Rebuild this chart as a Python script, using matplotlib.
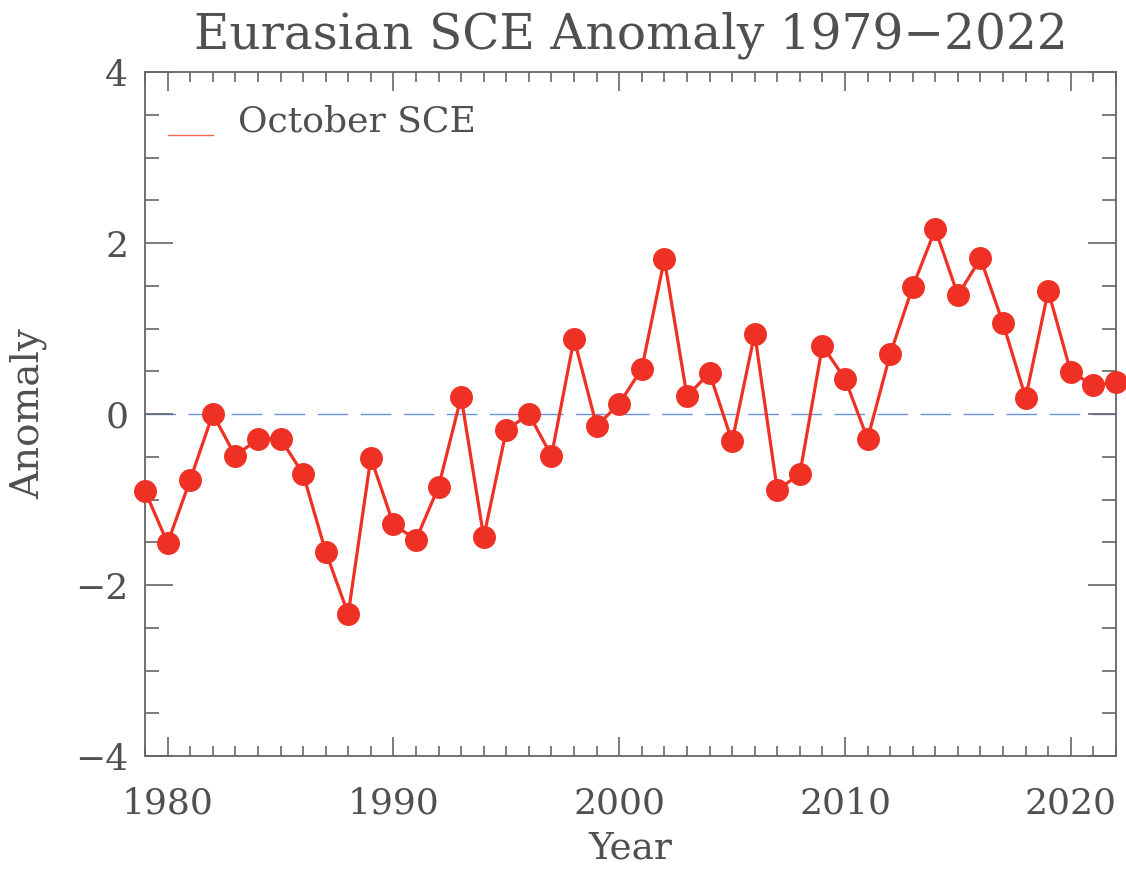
import numpy as np
import matplotlib.pyplot as plt
from matplotlib.ticker import MultipleLocator

# October Eurasian snow cover extent anomaly
years = np.arange(1979, 2023)
anomaly = [-0.90, -1.51, -0.77, 0.00, -0.49, -0.29, -0.29, -0.70, -1.61, -2.34,
           -0.51, -1.29, -1.47, -0.85, 0.20, -1.44, -0.19, 0.00, -0.49, 0.88,
           -0.14, 0.12, 0.53, 1.81, 0.21, 0.48, -0.32, 0.94, -0.89, -0.70,
           0.80, 0.41, -0.29, 0.70, 1.49, 2.16, 1.39, 1.82, 1.06, 0.19,
           1.44, 0.49, 0.34, 0.37]

plt.rcParams['font.family'] = ['DejaVu Serif']
plt.rcParams['axes.unicode_minus'] = True
txt = '#505050'
axc = '#666666'

fig = plt.figure(figsize=(11.26, 8.69), dpi=100)
ax = fig.add_axes([0.1288, 0.130, 0.8623, 0.7871])

ax.axhline(0, color='#6b8fdc', lw=1.0, dashes=(22, 9), zorder=1)
ax.plot(years, anomaly, color='#ee3124', lw=2.3, marker='o', ms=15.5,
        clip_on=False, zorder=3)

ax.set_xlim(1979, 2022)
ax.set_ylim(-4, 4)
ax.xaxis.set_major_locator(MultipleLocator(10))
ax.xaxis.set_minor_locator(MultipleLocator(1))
ax.yaxis.set_major_locator(MultipleLocator(2))
ax.yaxis.set_minor_locator(MultipleLocator(0.5))
ax.tick_params(which='both', direction='in', top=True, right=True, colors=axc,
               labelcolor=txt, labelsize=26, width=1.2)
ax.tick_params(axis='x', which='major', length=14, pad=22)
ax.tick_params(axis='x', which='minor', length=7)
ax.tick_params(axis='y', which='major', length=20, pad=12)
ax.tick_params(axis='y', which='minor', length=10)
for s in ax.spines.values():
    s.set_color(axc)
    s.set_linewidth(1.3)

ax.set_xlabel('Year', fontsize=27, color=txt, labelpad=7)
ax.set_ylabel('Anomaly', fontsize=28, color=txt, labelpad=20)
ax.set_title('Eurasian SCE Anomaly 1979\u22122022', fontsize=35, color=txt, pad=17)

# legend drawn as in the original: short thin line and label
ax.plot([1980.0, 1982.0], [3.26, 3.26], color='#f0645a', lw=1.0)
ax.text(1983.1, 3.42, 'October SCE', fontsize=26, color=txt, va='center')

fig.savefig('out.png', dpi=100)
